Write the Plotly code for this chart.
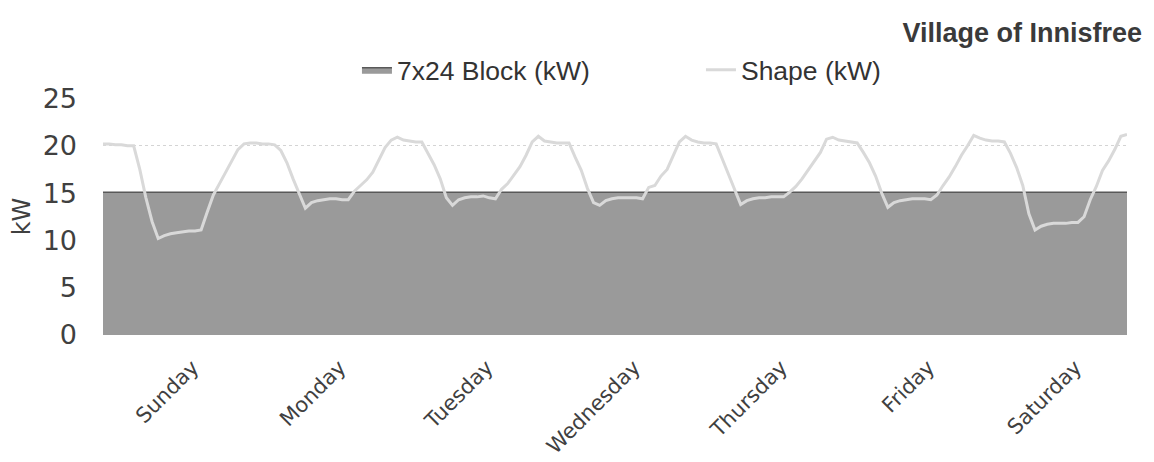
import plotly.graph_objects as go

# hourly load profile for one week (168 hours, Sunday 00:00 first)
sunday = [20.2, 20.2, 20.1, 20.1, 20.0, 20.0, 17.5, 14.5, 12.0, 10.2, 10.5, 10.7,
          10.8, 10.9, 11.0, 11.0, 11.1, 13.0, 14.8, 16.0, 17.2, 18.4, 19.6, 20.2]
monday = [20.3, 20.3, 20.2, 20.2, 20.1, 19.5, 18.2, 16.5, 15.0, 13.4, 14.0, 14.2,
          14.3, 14.4, 14.4, 14.3, 14.3, 15.2, 15.8, 16.4, 17.2, 18.5, 19.8, 20.6]
tuesday = [20.9, 20.6, 20.5, 20.4, 20.4, 19.2, 18.0, 16.5, 14.5, 13.7, 14.3, 14.5,
           14.6, 14.6, 14.7, 14.5, 14.4, 15.4, 16.0, 16.9, 17.8, 19.0, 20.4, 21.0]
wednesday = [20.5, 20.4, 20.3, 20.3, 20.3, 18.8, 17.4, 15.5, 14.0, 13.7, 14.2, 14.4,
             14.5, 14.5, 14.5, 14.5, 14.4, 15.6, 15.8, 16.8, 17.5, 19.0, 20.4, 21.0]
thursday = [20.6, 20.4, 20.3, 20.3, 20.2, 18.6, 17.0, 15.3, 13.8, 14.2, 14.4, 14.5,
            14.5, 14.6, 14.6, 14.6, 15.1, 15.7, 16.5, 17.4, 18.4, 19.3, 20.7, 20.9]
friday = [20.6, 20.5, 20.4, 20.3, 19.3, 18.2, 16.8, 15.0, 13.5, 14.0, 14.2, 14.3,
          14.4, 14.4, 14.4, 14.3, 14.8, 15.8, 16.7, 17.8, 19.0, 20.0, 21.1, 20.8]
saturday = [20.6, 20.5, 20.5, 20.4, 19.2, 17.7, 15.8, 12.8, 11.1, 11.5, 11.7, 11.8,
            11.8, 11.8, 11.9, 11.9, 12.5, 14.3, 15.7, 17.4, 18.4, 19.6, 21.0, 21.2]

shape_kw = sunday + monday + tuesday + wednesday + thursday + friday + saturday
block_kw = [15.1] * len(shape_kw)
hours = list(range(len(shape_kw)))

day_names = ["Sunday", "Monday", "Tuesday", "Wednesday", "Thursday", "Friday", "Saturday"]
# label sits a little past the middle of each day, like the excel export
day_ticks = [24 * i + 14.6 for i in range(len(day_names))]

fig = go.Figure()

# flat 7x24 block as a filled area
fig.add_trace(go.Scatter(
    x=hours, y=block_kw, name="7x24 Block (kW)",
    mode="lines", fill="tozeroy",
    line=dict(color="#595959", width=1.5),
    fillcolor="#9a9a9a",
))

# hourly shape
fig.add_trace(go.Scatter(
    x=hours, y=shape_kw, name="Shape (kW)",
    mode="lines",
    line=dict(color="#d9d9d9", width=3),
))

# page body has an 8px margin, so the figure is 16px smaller than the window
fig.update_layout(
    width=1146, height=454,
    paper_bgcolor="white", plot_bgcolor="white",
    margin=dict(l=95, r=27, t=90, b=127),
    font=dict(family="DejaVu Sans", color="#404040"),
    title=dict(
        text="<b>Village of Innisfree</b>",
        xref="container", yref="container",
        x=0.9895, xanchor="right", y=0.945, yanchor="middle",
        font=dict(family="Liberation Sans", size=27, color="#3a3a3a"),
    ),
    legend=dict(
        orientation="h", x=0.248, xanchor="left", y=1.118, yanchor="middle",
        font=dict(family="Liberation Sans", size=26.5, color="#333333"),
        entrywidth=299, entrywidthmode="pixels",
        bgcolor="rgba(0,0,0,0)",
    ),
    showlegend=True,
)

fig.update_xaxes(
    range=[0, 167], automargin=False,
    tickmode="array", tickvals=day_ticks, ticktext=day_names,
    tickangle=-45, tickfont=dict(size=21),
    ticklabelstandoff=15,
    showgrid=False, showline=False, zeroline=False,
)

fig.update_yaxes(
    range=[0, 25.05], automargin=False,
    tickvals=[0, 5, 10, 15, 20, 25],
    tickfont=dict(size=27),
    ticklabelstandoff=25,
    title=dict(text="kW", font=dict(size=24), standoff=10),
    showgrid=True, gridcolor="#d4d4d4", griddash="dot", gridwidth=1,
    showline=False, zeroline=False,
)

fig.write_html("out.html")
